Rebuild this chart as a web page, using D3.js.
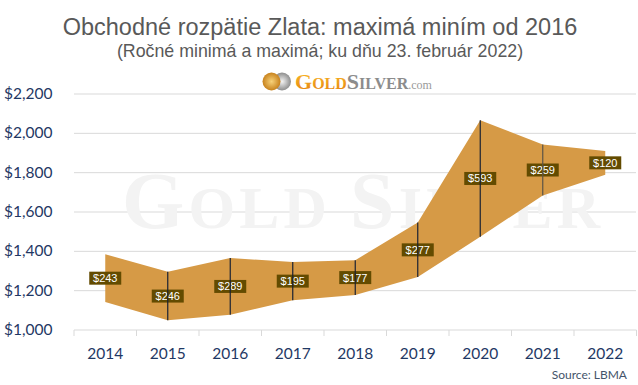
<!DOCTYPE html>
<html>
<head>
<meta charset="utf-8">
<script src="https://cdn.jsdelivr.net/npm/d3@7"></script>
<style>
  body { margin: 0; background: #fff; }
  svg { display: block; }
</style>
</head>
<body>
<div id="chart"></div>
<script>
// data (LBMA yearly low / high)
const years = ["2014", "2015", "2016", "2017", "2018", "2019", "2020", "2021", "2022"];
const lows = [1142, 1049, 1077, 1151, 1178, 1269, 1474, 1684, 1790];
const highs = [1385, 1296, 1366, 1346, 1355, 1546, 2067, 1943, 1910];
const rangeLabels = ["$243", "$246", "$289", "$195", "$177", "$277", "$593", "$259", "$120"];
const yTicks = [1000, 1200, 1400, 1600, 1800, 2000, 2200];
// years that show a high-low line
const lineYears = ["2015", "2016", "2017", "2018", "2019", "2020", "2021"];

const width = 638, height = 385;
const data = years.map((y, i) => ({ year: y, low: lows[i], high: highs[i], label: rangeLabels[i] }));

const svg = d3.select("#chart").append("svg")
    .attr("width", width)
    .attr("height", height);

const x = d3.scaleBand().domain(years).range([74, 636.5]).padding(0);
const y = d3.scaleLinear().domain([1000, 2200]).range([330, 94]);
const cx = d => x(d.year) + x.bandwidth() / 2;

// title
svg.append("text")
    .attr("x", 320).attr("y", 35)
    .attr("text-anchor", "middle")
    .style("font-family", "Liberation Sans, Arial, sans-serif")
    .style("font-size", "23.5px")
    .style("fill", "#595959")
    .text("Obchodné rozpätie Zlata: maximá miním od 2016");

svg.append("text")
    .attr("x", 320).attr("y", 57)
    .attr("text-anchor", "middle")
    .style("font-family", "Liberation Sans, Arial, sans-serif")
    .style("font-size", "17.8px")
    .style("fill", "#595959")
    .text("(Ročné minimá a maximá; ku dňu 23. február 2022)");

// gridlines
svg.append("g")
  .selectAll("line")
  .data(yTicks.filter(t => t > 1000))
  .join("line")
    .attr("x1", 74).attr("x2", 636)
    .attr("y1", d => y(d)).attr("y2", d => y(d))
    .attr("stroke", "#d9d9d9")
    .attr("stroke-width", 1);

// watermark
const wm = svg.append("text")
    .attr("x", 122).attr("y", 228)
    .style("font-family", "Liberation Serif, Times New Roman, serif")
    .style("font-weight", "bold")
    .style("fill", "#f3f3f3");
wm.append("tspan").style("font-size", "80px").text("G");
wm.append("tspan").style("font-size", "60px").text("OLD ");
wm.append("tspan").style("font-size", "80px").text("S");
wm.append("tspan").style("font-size", "60px").text("ILVER");
wm.attr("textLength", 478).attr("lengthAdjust", "spacing");

// logo
const defs = svg.append("defs");
const gGold = defs.append("radialGradient").attr("id", "coinGold");
gGold.append("stop").attr("offset", "0%").attr("stop-color", "#f7d27a");
gGold.append("stop").attr("offset", "100%").attr("stop-color", "#c8821c");
const gSilver = defs.append("radialGradient").attr("id", "coinSilver");
gSilver.append("stop").attr("offset", "0%").attr("stop-color", "#f4f4f4");
gSilver.append("stop").attr("offset", "100%").attr("stop-color", "#8d8d8d");
const gText = defs.append("linearGradient").attr("id", "goldText")
    .attr("x1", 0).attr("x2", 0).attr("y1", 0).attr("y2", 1);
gText.append("stop").attr("offset", "0%").attr("stop-color", "#fbc02d");
gText.append("stop").attr("offset", "100%").attr("stop-color", "#e47f0c");

svg.append("circle").attr("cx", 282).attr("cy", 81.5).attr("r", 9).attr("fill", "url(#coinSilver)");
svg.append("circle").attr("cx", 271.5).attr("cy", 81.5).attr("r", 9).attr("fill", "url(#coinGold)");

const logo = svg.append("text")
    .attr("x", 295).attr("y", 89)
    .style("font-family", "Liberation Serif, Times New Roman, serif")
    .style("font-weight", "bold");
logo.append("tspan").style("font-size", "22px").attr("fill", "url(#goldText)").text("G");
logo.append("tspan").style("font-size", "16px").attr("fill", "url(#goldText)").text("OLD");
logo.append("tspan").style("font-size", "22px").attr("fill", "#8c8c8c").text("S");
logo.append("tspan").style("font-size", "16px").attr("fill", "#8c8c8c").text("ILVER");
logo.append("tspan").style("font-size", "12px").style("font-weight", "normal").attr("fill", "#9a9a9a").text(".com");

// floating range band
const area = d3.area()
    .x(cx)
    .y0(d => y(d.low))
    .y1(d => y(d.high));

svg.append("path")
    .datum(data)
    .attr("d", area)
    .attr("fill", "#d69a46");

// data labels
const lab = svg.append("g").selectAll("g")
  .data(data)
  .join("g")
    .attr("transform", d => `translate(${cx(d)},${y((d.low + d.high) / 2)})`);

lab.append("rect")
    .attr("x", -16).attr("y", -6.5)
    .attr("width", 32).attr("height", 13)
    .attr("fill", "#634b00");

lab.append("text")
    .attr("y", 4)
    .attr("text-anchor", "middle")
    .style("font-family", "Liberation Sans, Arial, sans-serif")
    .style("font-size", "11px")
    .style("fill", "#ffffff")
    .text(d => d.label);

// high-low lines
svg.append("g")
  .selectAll("line")
  .data(data.filter(d => lineYears.includes(d.year)))
  .join("line")
    .attr("x1", cx).attr("x2", cx)
    .attr("y1", d => y(d.high)).attr("y2", d => y(d.low))
    .attr("stroke", d => d.year === "2021" ? "#5c5447" : "#1a2233")
    .attr("stroke-width", 1.2);

// x axis
const xAxis = svg.append("g").attr("transform", "translate(0,330)");
xAxis.append("line")
    .attr("x1", 74).attr("x2", 636.5)
    .attr("stroke", "#d9d9d9");
xAxis.selectAll("line.tick")
  .data(years.concat(["end"]))
  .join("line")
    .attr("class", "tick")
    .attr("x1", d => d === "end" ? 636.5 : x(d))
    .attr("x2", d => d === "end" ? 636.5 : x(d))
    .attr("y1", 0).attr("y2", 6)
    .attr("stroke", "#d9d9d9");
xAxis.selectAll("text")
  .data(years)
  .join("text")
    .attr("x", d => x(d) + x.bandwidth() / 2)
    .attr("y", 29)
    .attr("text-anchor", "middle")
    .style("font-family", "Lato, sans-serif")
    .style("font-size", "15.5px")
    .style("fill", "#1f3864")
    .text(d => d);

// y labels
svg.append("g")
  .selectAll("text")
  .data(yTicks)
  .join("text")
    .attr("x", 4)
    .attr("y", d => y(d) + 5)
    .style("font-family", "Lato, sans-serif")
    .style("font-size", "15.5px")
    .style("fill", "#1f3864")
    .text(d => "$" + d3.format(",")(d));

// source
svg.append("text")
    .attr("x", 627).attr("y", 379)
    .attr("text-anchor", "end")
    .style("font-family", "Lato, sans-serif")
    .style("font-size", "12px")
    .style("fill", "#44546a")
    .text("Source: LBMA");
</script>
</body>
</html>
